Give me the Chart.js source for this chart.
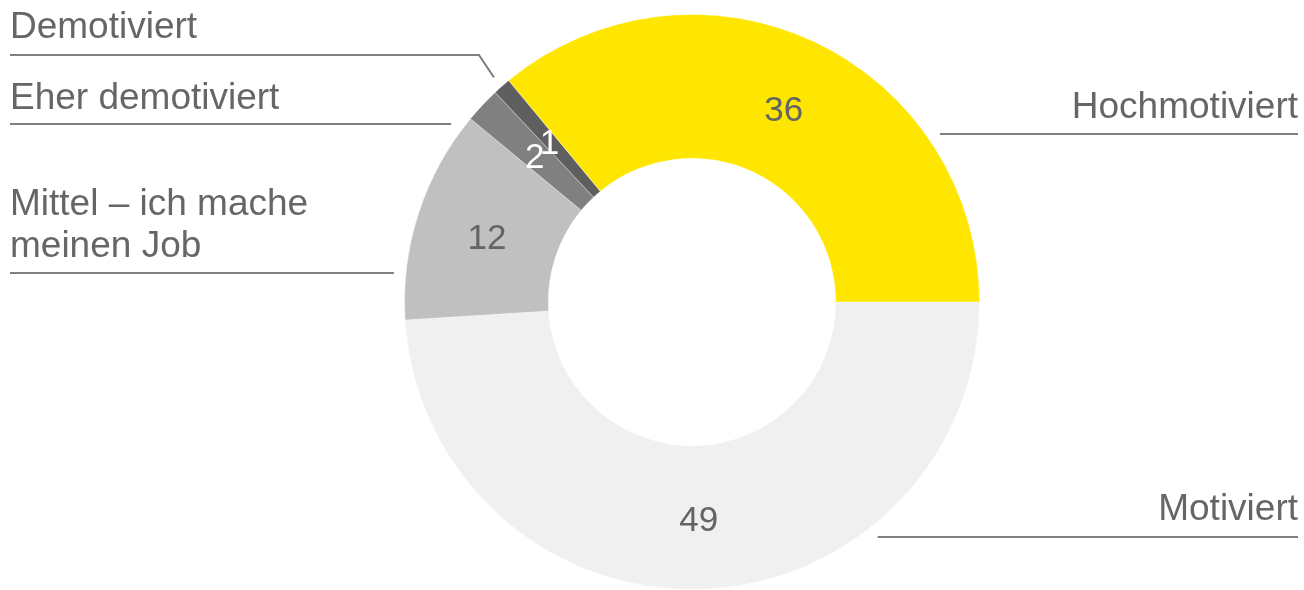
<!DOCTYPE html>
<html>
<head>
<meta charset="utf-8">
<script src="https://cdn.jsdelivr.net/npm/chart.js@4"></script>
<style>
  html, body { margin: 0; padding: 0; background: #fff; overflow: hidden; }
</style>
</head>
<body>
<canvas id="chart" width="1304" height="590"></canvas>
<script>
// segments, clockwise starting at 3 o'clock
const categories = ['Motiviert', ['Mittel – ich mache', 'meinen Job'], 'Eher demotiviert', 'Demotiviert', 'Hochmotiviert'];
const values = [49, 12, 2, 1, 36];

const sliceColors = ['#f0f0f0', '#c0c0c0', '#808080', '#5f5f5f', '#ffe600'];
const valueColors = ['#646464', '#646464', '#ffffff', '#ffffff', '#646464'];

// where each callout label sits
const callouts = [
  { side: 'right', lineY: 537, textY: [520] },
  { side: 'left', lineY: 273, textY: [215, 257] },
  { side: 'left', lineY: 124, textY: [109] },
  { side: 'left', lineY: 55, textY: [38], elbow: true },
  { side: 'right', lineY: 134, textY: [118] },
];

const FONT = '"Liberation Sans", Arial, sans-serif';
const TEXT_GREY = '#666666';
const LINE_GREY = '#7f7f7f';
const LEFT_X = 10;
const RIGHT_X = 1298;

const calloutPlugin = {
  id: 'callouts',
  afterDatasetsDraw(chart) {
    const ctx = chart.ctx;
    const meta = chart.getDatasetMeta(0);
    ctx.save();
    meta.data.forEach((arc, i) => {
      const p = arc.getProps(['x', 'y', 'startAngle', 'endAngle', 'outerRadius'], true);

      // value inside the slice
      const pos = arc.tooltipPosition(true);
      ctx.font = '35px ' + FONT;
      ctx.fillStyle = valueColors[i];
      ctx.textAlign = 'center';
      ctx.textBaseline = 'middle';
      ctx.fillText(String(values[i]), pos.x, pos.y + 4);

      // leader line
      const c = callouts[i];
      const R = p.outerRadius + 12;
      ctx.strokeStyle = LINE_GREY;
      ctx.lineWidth = 2;
      ctx.beginPath();
      if (c.elbow) {
        const mid = (p.startAngle + p.endAngle) / 2;
        const ax = p.x + R * Math.cos(mid);
        const ay = p.y + R * Math.sin(mid);
        ctx.moveTo(LEFT_X, c.lineY);
        ctx.lineTo(ax - 15, c.lineY);
        ctx.lineTo(ax, ay);
      } else {
        const dy = c.lineY - p.y;
        const dx = Math.sqrt(Math.max(R * R - dy * dy, 0));
        if (c.side === 'left') {
          ctx.moveTo(LEFT_X, c.lineY);
          ctx.lineTo(p.x - dx, c.lineY);
        } else {
          ctx.moveTo(p.x + dx, c.lineY);
          ctx.lineTo(RIGHT_X, c.lineY);
        }
      }
      ctx.stroke();

      // category text
      const lines = Array.isArray(categories[i]) ? categories[i] : [categories[i]];
      ctx.font = '37px ' + FONT;
      ctx.fillStyle = TEXT_GREY;
      ctx.textBaseline = 'alphabetic';
      ctx.textAlign = c.side === 'left' ? 'left' : 'right';
      lines.forEach((t, k) => {
        ctx.fillText(t, c.side === 'left' ? LEFT_X : RIGHT_X, c.textY[k]);
      });
    });
    ctx.restore();
  }
};

new Chart(document.getElementById('chart'), {
  type: 'doughnut',
  data: {
    labels: categories,
    datasets: [{
      data: values,
      backgroundColor: sliceColors,
      borderColor: 'rgba(255,255,255,0.35)',
      borderWidth: 1,
      hoverOffset: 0
    }]
  },
  options: {
    responsive: false,
    animation: false,
    rotation: 90,
    cutout: '50%',
    layout: { padding: { top: 14, bottom: -1, left: 80, right: 0 } },
    plugins: {
      legend: { display: false },
      tooltip: { enabled: false }
    }
  },
  plugins: [calloutPlugin]
});
</script>
</body>
</html>
